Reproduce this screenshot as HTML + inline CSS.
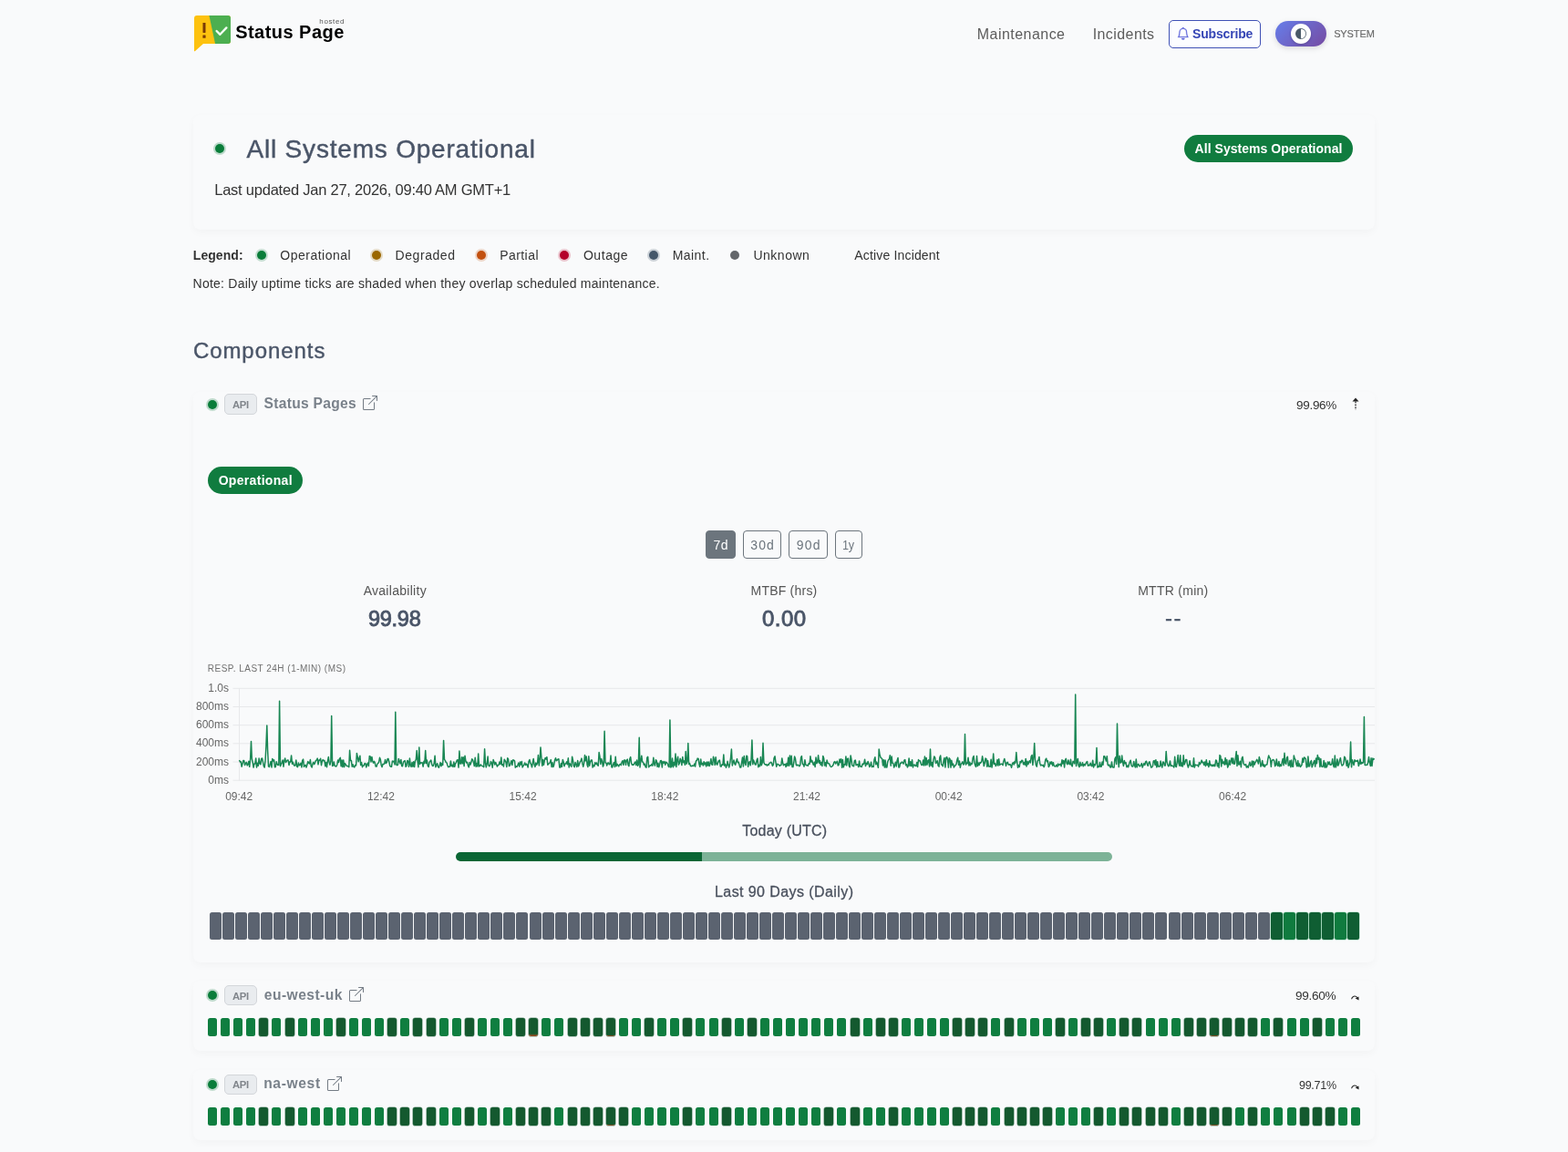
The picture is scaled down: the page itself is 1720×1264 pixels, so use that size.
<!DOCTYPE html>
<html lang="en"><head><meta charset="utf-8"><title>Status Page</title><style>
html,body{margin:0;padding:0}
body{width:1720px;height:1264px;position:relative;overflow:hidden;background:#f9fafb;font-family:"Liberation Sans", sans-serif;-webkit-font-smoothing:antialiased}
.abs,.t,.tk{position:absolute;display:block}
.t{white-space:pre;line-height:1;font-style:normal;margin:0;padding:0;text-decoration:none}
header,main,section,article,.ticks{display:block;margin:0;padding:0}
.card{position:absolute;left:212px;width:1296px;background:rgba(255,255,255,.05);border-radius:8px;box-shadow:0 3px 10px rgba(0,0,0,.032)}
.ax{font-family:"Liberation Sans", sans-serif;font-size:12px;fill:#666}
.rb{position:absolute;top:582px;height:31px;box-sizing:border-box;border:1px solid #6c757d;border-radius:4px}
</style></head><body>
<header>
<svg class="abs" style="left:210px;top:14px" width="48" height="46" viewBox="210 14 48 46">
<defs><clipPath id="lg"><path d="M216 17h34a3 3 0 0 1 3 3v25a3 3 0 0 1-3 3h-27l-9.2 8.2a.5.5 0 0 1-.8-.4V20a3 3 0 0 1 3-3z"/></clipPath></defs>
<g clip-path="url(#lg)"><rect x="210" y="14" width="48" height="46" fill="#fdc20f"/><polygon points="228.8,14 258,14 258,60 238.6,60" fill="#4caf50"/></g>
<rect x="222.5" y="25" width="3" height="11" rx=".4" fill="#7a3b06"/><rect x="222.4" y="38.6" width="3.2" height="3.2" rx=".3" fill="#7a3b06"/>
<polyline points="237.6,34 241.4,37.8 248.4,30.4" fill="none" stroke="#f2fff2" stroke-width="2.4" stroke-linecap="round" stroke-linejoin="round"/>
</svg>
<i class="abs" style="left:1282px;top:22px;width:101px;height:31px;box-sizing:border-box;border:1px solid #3f51b5;border-radius:5px;background:#fcfdff"></i>
<svg class="abs" style="left:1291.2px;top:30.2px" width="13.6" height="13.6" viewBox="0 0 16 16" fill="#5c63d8" stroke="#5c63d8" stroke-width=".35"><path d="M8 16a2 2 0 0 0 2-2H6a2 2 0 0 0 2 2zM8 1.918l-.797.161A4.002 4.002 0 0 0 4 6c0 .628-.134 2.197-.459 3.742-.16.767-.376 1.566-.663 2.258h10.244c-.287-.692-.502-1.49-.663-2.258C12.134 8.197 12 6.628 12 6a4.002 4.002 0 0 0-3.203-3.92L8 1.917zM14.22 12c.223.447.481.801.78 1H1c.299-.199.557-.553.78-1C2.68 10.2 3 6.88 3 6c0-2.42 1.72-4.44 4.005-4.901a1 1 0 1 1 1.99 0A5.002 5.002 0 0 1 13 6c0 .88.32 4.2 1.22 6z"/></svg>
<i class="abs" style="left:1399px;top:23px;width:56px;height:28px;border-radius:14px;background:linear-gradient(135deg,#667eea 0%,#764ba2 100%);box-shadow:0 2px 6px rgba(0,0,0,.13)"></i>
<i class="abs" style="left:1416px;top:26px;width:22px;height:22px;border-radius:50%;background:#fff;box-shadow:0 1px 3px rgba(0,0,0,.2)"></i>
<svg class="abs" style="left:1421px;top:31px" width="12" height="12" viewBox="0 0 16 16" fill="#4a5a68" ><path d="M8 15A7 7 0 1 0 8 1v14zm0 1A8 8 0 1 1 8 0a8 8 0 0 1 0 16z"/></svg>
<a class="t" id="brand" href="#brand" style="left:258.18px;top:24.97px;font-size:20px;font-weight:700;letter-spacing:0.463px;color:#000;">Status Page</a>
<span class="t" id="hosted" style="left:350.33px;top:20.03px;font-size:8px;font-weight:400;letter-spacing:0.626px;color:#555;">hosted</span>
<a class="t" id="nav1" href="#nav1" style="left:1071.84px;top:30.26px;font-size:16px;font-weight:400;letter-spacing:0.455px;color:#5c5c5c;">Maintenance</a>
<a class="t" id="nav2" href="#nav2" style="left:1198.64px;top:30.26px;font-size:16px;font-weight:400;letter-spacing:0.431px;color:#5c5c5c;">Incidents</a>
<a class="t" id="sub" href="#sub" style="left:1308.05px;top:29.85px;font-size:14px;font-weight:700;letter-spacing:-0.173px;color:#3545b5;">Subscribe</a>
<span class="t" id="sys" style="left:1463.15px;top:31.69px;font-size:11px;font-weight:400;letter-spacing:-0.114px;color:#6a6a6a;-webkit-text-stroke:.15px currentColor;">SYSTEM</span>
</header>
<main>
<section class="hero">
<div class="card" style="top:126px;height:126px"></div>
<i class="abs" style="left:235.90px;top:157.70px;width:10px;height:10px;border-radius:50%;background:#0a7d3a;box-shadow:0 0 0 2px rgba(10,125,58,.25);"></i>
<i class="abs" style="left:1299px;top:148px;width:185px;height:30px;border-radius:15px;background:#107c3f"></i>
<h1 class="t" id="h1" style="left:270.54px;top:150.20px;font-size:28px;font-weight:400;letter-spacing:0.798px;color:#4a5568;-webkit-text-stroke:.45px currentColor;">All Systems Operational</h1>
<p class="t" id="upd" style="left:235.23px;top:199.93px;font-size:16.5px;font-weight:400;letter-spacing:-0.233px;color:#333333;">Last updated Jan 27, 2026, 09:40 AM GMT+1</p>
<span class="t" id="badge1" style="left:1310.60px;top:155.95px;font-size:14px;font-weight:700;letter-spacing:0.034px;color:#fff;">All Systems Operational</span>
</section>
<section class="legend">
<i class="abs" style="left:281.75px;top:275.30px;width:10px;height:10px;border-radius:50%;background:#0a7d3a;box-shadow:0 0 0 2px rgba(10,125,58,.22);"></i>
<i class="abs" style="left:408.00px;top:275.30px;width:10px;height:10px;border-radius:50%;background:#9a6700;box-shadow:0 0 0 2px rgba(154,103,0,.22);"></i>
<i class="abs" style="left:522.50px;top:275.30px;width:10px;height:10px;border-radius:50%;background:#c2500f;box-shadow:0 0 0 2px rgba(194,80,15,.22);"></i>
<i class="abs" style="left:614.00px;top:275.30px;width:10px;height:10px;border-radius:50%;background:#b4002a;box-shadow:0 0 0 2px rgba(180,0,42,.22);"></i>
<i class="abs" style="left:712.00px;top:275.30px;width:10px;height:10px;border-radius:50%;background:#44576a;box-shadow:0 0 0 2px rgba(68,87,106,.25);"></i>
<i class="abs" style="left:800.75px;top:275.30px;width:10px;height:10px;border-radius:50%;background:#64676b;"></i>
<strong class="t" id="leg" style="left:211.79px;top:273.15px;font-size:14px;font-weight:700;letter-spacing:0.068px;color:#333333;">Legend:</strong>
<span class="t" id="lg0" style="left:307.37px;top:273.15px;font-size:14px;font-weight:400;letter-spacing:0.482px;color:#333333;">Operational</span>
<span class="t" id="lg1" style="left:433.53px;top:273.15px;font-size:14px;font-weight:400;letter-spacing:0.568px;color:#333333;">Degraded</span>
<span class="t" id="lg2" style="left:548.16px;top:273.15px;font-size:14px;font-weight:400;letter-spacing:0.444px;color:#333333;">Partial</span>
<span class="t" id="lg3" style="left:639.92px;top:273.15px;font-size:14px;font-weight:400;letter-spacing:0.559px;color:#333333;">Outage</span>
<span class="t" id="lg4" style="left:737.67px;top:273.15px;font-size:14px;font-weight:400;letter-spacing:0.464px;color:#333333;">Maint.</span>
<span class="t" id="lg5" style="left:826.45px;top:273.15px;font-size:14px;font-weight:400;letter-spacing:0.508px;color:#333333;">Unknown</span>
<span class="t" id="lg6" style="left:937.30px;top:273.15px;font-size:14px;font-weight:400;letter-spacing:0.165px;color:#333333;">Active Incident</span>
<p class="t" id="note" style="left:211.53px;top:303.90px;font-size:14px;font-weight:400;letter-spacing:0.250px;color:#333333;">Note: Daily uptime ticks are shaded when they overlap scheduled maintenance.</p>
</section>
<section class="components">
<h2 class="t" id="comp" style="left:211.89px;top:373.48px;font-size:24px;font-weight:400;letter-spacing:0.937px;color:#4a5568;-webkit-text-stroke:.4px currentColor;">Components</h2>
<article class="component">
<div class="card" style="top:430px;height:626px"></div>
<i class="abs" style="left:227.80px;top:438.80px;width:10px;height:10px;border-radius:50%;background:#0a7d3a;box-shadow:0 0 0 2px rgba(10,125,58,.25);"></i>
<i class="abs" style="left:246.3px;top:432.4px;width:35.5px;height:22.3px;box-sizing:border-box;background:#e9ecef;border:1px solid #d3d6da;border-radius:5px"></i>
<svg class="abs" style="left:398px;top:434px" width="16" height="16" viewBox="0 0 16 16" fill="#737b84" ><path fill-rule="evenodd" d="M8.636 3.5a.5.5 0 0 0-.5-.5H1.5A1.5 1.5 0 0 0 0 4.5v10A1.5 1.5 0 0 0 1.5 16h10a1.5 1.5 0 0 0 1.5-1.5V7.864a.5.5 0 0 0-1 0V14.5a.5.5 0 0 1-.5.5h-10a.5.5 0 0 1-.5-.5v-10a.5.5 0 0 1 .5-.5h6.636a.5.5 0 0 0 .5-.5z"/><path fill-rule="evenodd" d="M16 .5a.5.5 0 0 0-.5-.5h-5a.5.5 0 0 0 0 1h3.793L6.146 9.146a.5.5 0 1 0 .708.708L15 1.707V5.5a.5.5 0 0 0 1 0v-5z"/></svg>
<svg class="abs" style="left:1479.8px;top:434.2px" width="14" height="18" viewBox="0 0 14 18"><path d="M7 2.4 L10.5 6.6 H3.5 Z" fill="#222"/><path d="M7 6.4v9.4" stroke="#222" stroke-width="1.3" stroke-dasharray="1.8 1.2" fill="none"/></svg>
<i class="abs" style="left:228px;top:512px;width:104px;height:30px;border-radius:15px;background:#107c3f"></i>
<i class="rb" style="left:774px;width:33px;background:#6c757d"></i>
<i class="rb" style="left:815px;width:42px"></i>
<i class="rb" style="left:865px;width:43px"></i>
<i class="rb" style="left:916px;width:30px"></i>
<svg class="abs" style="left:0;top:0" width="1720" height="1264" viewBox="0 0 1720 1264"><line x1="255.5" y1="755.3" x2="1508" y2="755.3" stroke="#e7e8ea" stroke-width="1"/><line x1="255.5" y1="775.5" x2="1508" y2="775.5" stroke="#e7e8ea" stroke-width="1"/><line x1="255.5" y1="795.7" x2="1508" y2="795.7" stroke="#e7e8ea" stroke-width="1"/><line x1="255.5" y1="815.8" x2="1508" y2="815.8" stroke="#e7e8ea" stroke-width="1"/><line x1="255.5" y1="836.0" x2="1508" y2="836.0" stroke="#e7e8ea" stroke-width="1"/><line x1="255.5" y1="856.2" x2="1508" y2="856.2" stroke="#e7e8ea" stroke-width="1"/><line x1="262.5" y1="755.3" x2="262.5" y2="856.7" stroke="#e7e8ea" stroke-width="1"/><polyline fill="none" stroke="#198754" stroke-width="1.5" stroke-linejoin="round" points="262.5,834.0 263.4,836.0 264.2,835.7 265.1,841.2 266.0,838.1 266.8,834.6 267.7,834.5 268.6,839.6 269.4,837.4 270.3,836.4 271.2,839.9 272.0,838.8 272.9,835.3 273.7,841.3 274.6,833.5 275.5,813.4 276.3,832.5 277.2,836.7 278.1,842.0 278.9,837.9 279.8,837.9 280.7,831.9 281.5,842.0 282.4,837.2 283.3,840.2 284.1,832.1 285.0,837.8 285.9,838.8 286.7,832.4 287.6,832.0 288.5,836.3 289.3,840.6 290.2,842.0 291.1,833.7 291.9,818.9 292.8,796.0 293.6,823.1 294.5,840.9 295.4,841.5 296.2,838.6 297.1,835.4 298.0,842.0 298.8,832.4 299.7,835.0 300.6,833.8 301.4,841.7 302.3,841.5 303.2,835.8 304.0,838.3 304.9,839.6 305.8,839.2 306.6,769.3 307.5,840.7 308.4,838.7 309.2,836.8 310.1,834.0 311.0,841.2 311.8,834.7 312.7,832.0 313.5,836.6 314.4,835.1 315.3,834.0 316.1,834.1 317.0,839.5 317.9,835.8 318.7,835.9 319.6,828.9 320.5,838.2 321.3,836.2 322.2,839.0 323.1,840.2 323.9,839.8 324.8,834.0 325.7,841.2 326.5,841.7 327.4,836.9 328.3,839.9 329.1,839.4 330.0,837.2 330.9,841.8 331.7,834.4 332.6,833.1 333.5,841.3 334.3,840.1 335.2,839.3 336.0,842.0 336.9,839.2 337.8,835.5 338.6,837.1 339.5,837.9 340.4,833.6 341.2,840.4 342.1,842.0 343.0,838.0 343.8,836.3 344.7,838.6 345.6,836.8 346.4,834.4 347.3,834.1 348.2,832.1 349.0,838.8 349.9,834.0 350.8,834.2 351.6,832.2 352.5,839.7 353.4,835.2 354.2,833.6 355.1,834.8 355.9,834.4 356.8,840.7 357.7,836.6 358.5,841.7 359.4,835.1 360.3,830.6 361.1,836.4 362.0,839.2 362.9,835.0 363.7,785.5 364.6,840.5 365.5,839.9 366.3,835.9 367.2,840.4 368.1,840.8 368.9,840.9 369.8,839.0 370.7,833.9 371.5,836.6 372.4,832.4 373.3,831.4 374.1,840.8 375.0,834.1 375.8,841.6 376.7,833.9 377.6,841.6 378.4,837.6 379.3,838.9 380.2,840.5 381.0,840.4 381.9,840.8 382.8,841.6 383.6,823.2 384.5,834.4 385.4,834.6 386.2,841.2 387.1,838.8 388.0,841.4 388.8,841.9 389.7,839.5 390.6,839.9 391.4,826.4 392.3,831.0 393.2,835.7 394.0,832.0 394.9,829.2 395.7,839.6 396.6,836.6 397.5,841.7 398.3,839.9 399.2,839.9 400.1,837.4 400.9,837.7 401.8,841.9 402.7,838.5 403.5,837.1 404.4,840.5 405.3,829.6 406.1,829.9 407.0,836.0 407.9,830.4 408.7,835.0 409.6,837.1 410.5,835.3 411.3,837.1 412.2,841.1 413.1,841.0 413.9,838.1 414.8,837.5 415.6,836.3 416.5,831.3 417.4,833.6 418.2,839.5 419.1,841.6 420.0,838.3 420.8,838.6 421.7,837.9 422.6,833.5 423.4,837.6 424.3,836.5 425.2,832.4 426.0,832.6 426.9,836.3 427.8,840.5 428.6,841.2 429.5,841.3 430.4,835.0 431.2,835.7 432.1,835.2 433.0,838.9 433.8,781.2 434.7,838.9 435.6,839.7 436.4,839.3 437.3,832.4 438.1,834.9 439.0,837.9 439.9,833.4 440.7,840.5 441.6,840.7 442.5,836.0 443.3,835.2 444.2,834.6 445.1,841.3 445.9,840.5 446.8,834.4 447.7,835.2 448.5,841.3 449.4,832.0 450.3,839.9 451.1,841.4 452.0,836.6 452.9,841.2 453.7,835.7 454.6,841.5 455.5,834.5 456.3,833.8 457.2,823.5 458.0,834.5 458.9,841.7 459.8,820.0 460.6,838.4 461.5,836.8 462.4,836.9 463.2,836.7 464.1,841.2 465.0,835.3 465.8,837.6 466.7,823.6 467.6,837.6 468.4,834.1 469.3,840.4 470.2,841.5 471.0,836.4 471.9,835.2 472.8,834.0 473.6,838.4 474.5,840.5 475.4,840.3 476.2,837.5 477.1,829.2 477.9,841.7 478.8,839.3 479.7,837.7 480.5,841.3 481.4,842.2 482.3,839.4 483.1,836.6 484.0,840.7 484.9,837.5 485.7,839.4 486.6,812.4 487.5,833.5 488.3,834.2 489.2,836.4 490.1,837.0 490.9,839.7 491.8,841.7 492.7,841.2 493.5,841.2 494.4,834.9 495.3,840.7 496.1,839.3 497.0,841.5 497.8,836.0 498.7,841.3 499.6,837.7 500.4,836.6 501.3,834.0 502.2,833.8 503.0,842.1 503.9,824.0 504.8,837.9 505.6,838.1 506.5,830.7 507.4,837.8 508.2,830.8 509.1,840.6 510.0,829.2 510.8,834.6 511.7,836.9 512.6,836.3 513.4,840.0 514.3,841.8 515.2,836.4 516.0,839.0 516.9,836.5 517.7,832.8 518.6,833.7 519.5,836.6 520.3,840.5 521.2,831.2 522.1,841.2 522.9,837.4 523.8,840.9 524.7,827.0 525.5,840.9 526.4,840.3 527.3,838.8 528.1,840.1 529.0,840.4 529.9,840.9 530.7,841.6 531.6,821.7 532.5,837.5 533.3,841.8 534.2,838.0 535.1,830.1 535.9,839.8 536.8,840.8 537.7,839.0 538.5,835.6 539.4,837.2 540.2,842.2 541.1,833.6 542.0,835.9 542.8,839.0 543.7,836.5 544.6,838.7 545.4,841.0 546.3,839.5 547.2,839.1 548.0,835.9 548.9,838.4 549.8,830.9 550.6,839.4 551.5,838.7 552.4,841.1 553.2,833.2 554.1,834.7 555.0,836.3 555.8,841.4 556.7,831.8 557.6,833.0 558.4,840.6 559.3,839.9 560.1,837.4 561.0,834.6 561.9,839.5 562.7,833.8 563.6,834.1 564.5,834.9 565.3,842.2 566.2,840.8 567.1,841.4 567.9,839.5 568.8,837.1 569.7,841.1 570.5,836.1 571.4,839.1 572.3,835.4 573.1,841.9 574.0,840.4 574.9,839.1 575.7,836.9 576.6,839.5 577.5,838.1 578.3,839.2 579.2,841.9 580.0,835.6 580.9,833.5 581.8,837.3 582.6,838.6 583.5,841.8 584.4,836.6 585.2,832.5 586.1,839.1 587.0,841.4 587.8,837.1 588.7,839.3 589.6,837.0 590.4,828.5 591.3,840.0 592.2,832.8 593.0,819.9 593.9,831.1 594.8,840.3 595.6,833.5 596.5,839.2 597.4,833.8 598.2,831.4 599.1,833.2 599.9,830.6 600.8,839.2 601.7,837.9 602.5,837.8 603.4,836.4 604.3,833.6 605.1,841.5 606.0,836.8 606.9,841.6 607.7,839.2 608.6,834.0 609.5,831.7 610.3,834.7 611.2,834.1 612.1,833.0 612.9,832.8 613.8,842.0 614.7,842.0 615.5,837.6 616.4,841.2 617.3,833.6 618.1,836.0 619.0,840.7 619.8,838.0 620.7,838.0 621.6,835.9 622.4,838.8 623.3,831.8 624.2,841.9 625.0,837.7 625.9,839.4 626.8,841.3 627.6,830.2 628.5,834.1 629.4,840.6 630.2,841.6 631.1,836.4 632.0,839.0 632.8,841.4 633.7,834.5 634.6,840.8 635.4,838.8 636.3,836.0 637.2,834.6 638.0,832.1 638.9,837.9 639.8,841.2 640.6,837.3 641.5,828.6 642.3,834.8 643.2,830.0 644.1,839.3 644.9,841.5 645.8,829.8 646.7,840.2 647.5,836.1 648.4,834.0 649.3,833.9 650.1,842.1 651.0,839.5 651.9,840.9 652.7,836.7 653.6,838.5 654.5,837.0 655.3,839.3 656.2,840.2 657.1,825.5 657.9,829.6 658.8,838.4 659.7,832.6 660.5,835.2 661.4,841.1 662.2,839.2 663.1,802.2 664.0,837.1 664.8,836.9 665.7,840.0 666.6,837.2 667.4,836.9 668.3,838.9 669.2,838.3 670.0,829.1 670.9,841.8 671.8,841.9 672.6,838.7 673.5,836.6 674.4,841.4 675.2,830.2 676.1,840.8 677.0,838.3 677.8,839.5 678.7,840.9 679.6,839.0 680.4,838.2 681.3,839.6 682.1,836.4 683.0,834.7 683.9,839.3 684.7,834.1 685.6,834.0 686.5,839.3 687.3,834.2 688.2,833.1 689.1,839.4 689.9,840.6 690.8,832.7 691.7,830.6 692.5,837.1 693.4,839.3 694.3,839.1 695.1,839.3 696.0,837.3 696.9,836.0 697.7,839.5 698.6,833.9 699.5,840.3 700.3,839.1 701.2,809.3 702.0,841.9 702.9,835.1 703.8,829.2 704.6,835.8 705.5,836.4 706.4,839.2 707.2,838.1 708.1,841.6 709.0,842.1 709.8,831.2 710.7,830.4 711.6,841.7 712.4,840.6 713.3,839.7 714.2,840.0 715.0,838.4 715.9,840.3 716.8,831.3 717.6,837.9 718.5,840.1 719.4,833.7 720.2,834.8 721.1,841.3 721.9,837.2 722.8,841.7 723.7,838.4 724.5,834.7 725.4,834.5 726.3,842.0 727.1,835.6 728.0,837.1 728.9,835.5 729.7,839.2 730.6,836.2 731.5,836.9 732.3,837.9 733.2,840.9 734.1,841.6 734.9,790.1 735.8,842.0 736.7,840.7 737.5,832.1 738.4,841.7 739.3,836.4 740.1,839.9 741.0,827.0 741.9,841.4 742.7,833.9 743.6,830.3 744.4,839.3 745.3,837.4 746.2,832.2 747.0,834.3 747.9,839.6 748.8,830.5 749.6,836.7 750.5,834.9 751.4,839.3 752.2,824.5 753.1,838.2 754.0,835.4 754.8,815.6 755.7,838.5 756.6,837.6 757.4,840.3 758.3,840.8 759.2,840.0 760.0,840.5 760.9,840.2 761.8,838.0 762.6,841.1 763.5,834.9 764.3,834.5 765.2,832.1 766.1,832.4 766.9,838.0 767.8,841.3 768.7,832.9 769.5,838.8 770.4,837.3 771.3,840.1 772.1,835.7 773.0,838.9 773.9,836.8 774.7,840.9 775.6,836.1 776.5,840.1 777.3,836.0 778.2,840.6 779.1,837.7 779.9,832.5 780.8,838.8 781.7,839.3 782.5,830.3 783.4,833.5 784.2,839.5 785.1,830.7 786.0,838.4 786.8,839.1 787.7,836.6 788.6,834.4 789.4,834.1 790.3,841.0 791.2,841.1 792.0,838.8 792.9,839.3 793.8,828.0 794.6,840.1 795.5,838.4 796.4,842.2 797.2,840.1 798.1,835.3 799.0,839.8 799.8,841.9 800.7,837.4 801.6,831.0 802.4,822.0 803.3,840.0 804.1,837.1 805.0,833.9 805.9,838.1 806.7,839.2 807.6,835.5 808.5,832.6 809.3,836.8 810.2,836.2 811.1,839.4 811.9,841.9 812.8,841.9 813.7,836.1 814.5,830.9 815.4,841.0 816.3,829.4 817.1,836.8 818.0,839.5 818.9,829.2 819.7,829.8 820.6,841.3 821.5,837.0 822.3,835.5 823.2,839.8 824.0,834.1 824.9,812.0 825.8,838.7 826.6,833.9 827.5,836.5 828.4,839.0 829.2,838.9 830.1,834.1 831.0,832.1 831.8,841.7 832.7,839.3 833.6,840.8 834.4,830.6 835.3,839.7 836.2,836.9 837.0,815.2 837.9,836.7 838.8,838.5 839.6,839.1 840.5,838.7 841.4,840.1 842.2,838.8 843.1,839.5 844.0,837.3 844.8,837.1 845.7,836.3 846.5,837.2 847.4,840.4 848.3,839.1 849.1,831.7 850.0,829.8 850.9,836.0 851.7,841.2 852.6,838.2 853.5,838.7 854.3,838.9 855.2,840.4 856.1,839.4 856.9,839.4 857.8,831.9 858.7,837.3 859.5,839.8 860.4,838.9 861.3,838.3 862.1,841.6 863.0,837.5 863.9,840.2 864.7,831.2 865.6,840.3 866.4,829.1 867.3,838.9 868.2,829.3 869.0,841.5 869.9,841.6 870.8,836.5 871.6,829.9 872.5,832.6 873.4,839.5 874.2,839.9 875.1,839.1 876.0,839.6 876.8,840.7 877.7,839.7 878.6,831.1 879.4,829.6 880.3,838.1 881.2,838.9 882.0,841.1 882.9,833.7 883.8,839.1 884.6,839.8 885.5,839.5 886.3,840.3 887.2,837.6 888.1,838.3 888.9,829.7 889.8,836.1 890.7,834.3 891.5,837.2 892.4,839.4 893.3,836.3 894.1,841.4 895.0,831.0 895.9,837.7 896.7,836.4 897.6,828.8 898.5,837.2 899.3,834.5 900.2,839.3 901.1,836.5 901.9,840.5 902.8,829.4 903.7,832.1 904.5,839.9 905.4,836.7 906.2,840.9 907.1,834.1 908.0,837.3 908.8,837.8 909.7,837.9 910.6,840.4 911.4,841.4 912.3,841.3 913.2,840.5 914.0,839.2 914.9,836.3 915.8,835.6 916.6,838.0 917.5,836.6 918.4,835.2 919.2,839.9 920.1,839.3 921.0,833.1 921.8,836.5 922.7,832.7 923.6,842.3 924.4,833.5 925.3,841.8 926.1,838.7 927.0,839.1 927.9,829.9 928.7,839.9 929.6,832.7 930.5,832.1 931.3,840.1 932.2,841.8 933.1,828.9 933.9,833.0 934.8,839.9 935.7,840.4 936.5,840.8 937.4,834.7 938.3,834.1 939.1,839.6 940.0,838.9 940.9,838.8 941.7,841.6 942.6,834.9 943.5,841.0 944.3,840.9 945.2,841.5 946.1,838.1 946.9,838.7 947.8,837.5 948.6,833.2 949.5,840.6 950.4,837.2 951.2,838.7 952.1,835.5 953.0,838.0 953.8,841.5 954.7,839.7 955.6,836.3 956.4,841.6 957.3,840.7 958.2,841.4 959.0,833.6 959.9,830.8 960.8,838.8 961.6,836.1 962.5,838.8 963.4,842.2 964.2,822.0 965.1,828.6 966.0,831.1 966.8,831.9 967.7,832.5 968.5,839.9 969.4,833.8 970.3,841.9 971.1,834.1 972.0,842.1 972.9,841.8 973.7,836.1 974.6,833.8 975.5,832.8 976.3,828.7 977.2,840.2 978.1,829.9 978.9,837.2 979.8,837.4 980.7,842.1 981.5,839.9 982.4,836.3 983.3,840.9 984.1,834.4 985.0,831.4 985.9,841.9 986.7,841.7 987.6,837.3 988.4,837.6 989.3,836.0 990.2,836.8 991.0,838.1 991.9,834.2 992.8,833.6 993.6,839.7 994.5,838.6 995.4,841.9 996.2,840.3 997.1,831.9 998.0,840.5 998.8,835.7 999.7,840.5 1000.6,833.7 1001.4,842.0 1002.3,839.3 1003.2,839.1 1004.0,840.3 1004.9,840.6 1005.8,836.5 1006.6,841.5 1007.5,833.6 1008.3,834.7 1009.2,834.7 1010.1,837.7 1010.9,839.4 1011.8,839.5 1012.7,833.9 1013.5,839.9 1014.4,830.1 1015.3,839.8 1016.1,831.4 1017.0,839.2 1017.9,834.8 1018.7,833.8 1019.6,840.9 1020.5,822.0 1021.3,840.0 1022.2,836.4 1023.1,841.6 1023.9,833.8 1024.8,829.9 1025.7,831.4 1026.5,837.5 1027.4,836.6 1028.2,834.6 1029.1,840.1 1030.0,841.1 1030.8,831.3 1031.7,829.0 1032.6,839.0 1033.4,839.1 1034.3,840.8 1035.2,834.0 1036.0,831.5 1036.9,842.0 1037.8,831.4 1038.6,830.5 1039.5,833.2 1040.4,842.1 1041.2,831.7 1042.1,832.9 1043.0,842.1 1043.8,834.3 1044.7,839.5 1045.6,838.1 1046.4,842.0 1047.3,840.3 1048.2,839.7 1049.0,838.3 1049.9,833.6 1050.7,831.3 1051.6,839.3 1052.5,835.1 1053.3,842.2 1054.2,838.4 1055.1,837.5 1055.9,835.8 1056.8,839.0 1057.7,837.5 1058.5,805.4 1059.4,839.1 1060.3,837.1 1061.1,837.8 1062.0,831.2 1062.9,840.0 1063.7,836.3 1064.6,839.8 1065.5,837.8 1066.3,838.2 1067.2,831.3 1068.1,829.5 1068.9,837.0 1069.8,839.9 1070.6,841.4 1071.5,829.6 1072.4,840.6 1073.2,837.1 1074.1,839.6 1075.0,836.5 1075.8,837.1 1076.7,835.8 1077.6,829.8 1078.4,833.9 1079.3,840.6 1080.2,837.4 1081.0,832.1 1081.9,832.7 1082.8,841.2 1083.6,834.5 1084.5,841.0 1085.4,841.0 1086.2,841.2 1087.1,833.2 1088.0,842.0 1088.8,838.0 1089.7,827.0 1090.5,838.3 1091.4,837.5 1092.3,840.6 1093.1,839.4 1094.0,833.6 1094.9,840.1 1095.7,832.8 1096.6,839.4 1097.5,838.5 1098.3,838.2 1099.2,838.2 1100.1,839.7 1100.9,835.2 1101.8,832.4 1102.7,836.1 1103.5,840.4 1104.4,837.0 1105.3,836.2 1106.1,838.8 1107.0,839.2 1107.9,838.5 1108.7,839.6 1109.6,842.2 1110.4,837.9 1111.3,836.7 1112.2,839.1 1113.0,835.6 1113.9,837.1 1114.8,825.5 1115.6,834.8 1116.5,842.2 1117.4,839.5 1118.2,841.6 1119.1,835.4 1120.0,836.8 1120.8,834.2 1121.7,834.5 1122.6,838.7 1123.4,836.5 1124.3,839.2 1125.2,832.4 1126.0,840.9 1126.9,835.2 1127.8,838.8 1128.6,836.2 1129.5,834.6 1130.3,837.0 1131.2,829.9 1132.1,828.5 1132.9,839.5 1133.8,831.5 1134.7,815.6 1135.5,833.6 1136.4,839.5 1137.3,841.1 1138.1,834.8 1139.0,834.2 1139.9,830.4 1140.7,837.6 1141.6,839.9 1142.5,839.2 1143.3,840.0 1144.2,839.3 1145.1,841.6 1145.9,839.7 1146.8,833.6 1147.7,832.2 1148.5,835.7 1149.4,834.8 1150.3,841.5 1151.1,840.4 1152.0,835.9 1152.8,838.1 1153.7,835.9 1154.6,840.0 1155.4,836.8 1156.3,840.4 1157.2,840.9 1158.0,840.9 1158.9,839.2 1159.8,841.3 1160.6,838.1 1161.5,839.8 1162.4,838.8 1163.2,838.2 1164.1,840.7 1165.0,833.7 1165.8,837.9 1166.7,834.5 1167.6,842.0 1168.4,834.4 1169.3,832.4 1170.2,837.8 1171.0,838.6 1171.9,834.0 1172.7,838.0 1173.6,838.8 1174.5,833.3 1175.3,839.5 1176.2,840.9 1177.1,835.2 1177.9,836.1 1178.8,837.9 1179.7,761.9 1180.5,840.5 1181.4,836.2 1182.3,832.4 1183.1,839.9 1184.0,841.6 1184.9,836.3 1185.7,840.1 1186.6,839.8 1187.5,836.7 1188.3,840.8 1189.2,838.5 1190.1,839.9 1190.9,838.1 1191.8,836.3 1192.6,835.6 1193.5,840.2 1194.4,839.3 1195.2,839.9 1196.1,837.3 1197.0,839.9 1197.8,840.7 1198.7,834.2 1199.6,841.9 1200.4,838.6 1201.3,839.8 1202.2,837.3 1203.0,820.4 1203.9,842.1 1204.8,840.7 1205.6,841.5 1206.5,836.6 1207.4,841.3 1208.2,841.0 1209.1,835.9 1210.0,839.3 1210.8,829.7 1211.7,829.7 1212.5,832.2 1213.4,835.0 1214.3,829.7 1215.1,839.0 1216.0,840.0 1216.9,839.1 1217.7,841.7 1218.6,841.9 1219.5,836.1 1220.3,841.6 1221.2,842.1 1222.1,842.0 1222.9,832.8 1223.8,830.7 1224.7,838.5 1225.5,793.9 1226.4,832.4 1227.3,841.6 1228.1,829.3 1229.0,837.0 1229.9,836.6 1230.7,829.0 1231.6,836.5 1232.4,840.4 1233.3,834.4 1234.2,837.8 1235.0,836.7 1235.9,841.7 1236.8,840.0 1237.6,841.7 1238.5,838.8 1239.4,835.8 1240.2,834.2 1241.1,840.0 1242.0,841.0 1242.8,841.0 1243.7,835.5 1244.6,840.0 1245.4,841.9 1246.3,833.0 1247.2,841.8 1248.0,839.0 1248.9,838.2 1249.8,840.6 1250.6,840.8 1251.5,839.4 1252.4,837.6 1253.2,842.0 1254.1,839.5 1254.9,837.6 1255.8,839.5 1256.7,835.8 1257.5,835.2 1258.4,838.6 1259.3,840.3 1260.1,837.0 1261.0,835.8 1261.9,838.9 1262.7,842.0 1263.6,841.8 1264.5,840.4 1265.3,835.0 1266.2,834.6 1267.1,839.4 1267.9,833.7 1268.8,841.8 1269.7,835.7 1270.5,841.1 1271.4,840.9 1272.3,841.0 1273.1,835.0 1274.0,840.0 1274.8,842.1 1275.7,835.9 1276.6,836.6 1277.4,840.0 1278.3,839.9 1279.2,824.4 1280.0,835.6 1280.9,839.1 1281.8,840.8 1282.6,839.6 1283.5,834.9 1284.4,840.6 1285.2,839.9 1286.1,840.3 1287.0,840.9 1287.8,842.0 1288.7,830.3 1289.6,840.9 1290.4,841.5 1291.3,835.8 1292.2,828.4 1293.0,837.6 1293.9,840.2 1294.7,828.7 1295.6,840.6 1296.5,837.1 1297.3,841.1 1298.2,828.7 1299.1,839.1 1299.9,836.7 1300.8,833.5 1301.7,833.4 1302.5,839.1 1303.4,842.0 1304.3,839.3 1305.1,834.7 1306.0,839.3 1306.9,840.9 1307.7,840.5 1308.6,841.3 1309.5,831.8 1310.3,842.1 1311.2,839.0 1312.1,839.6 1312.9,839.4 1313.8,839.4 1314.6,841.1 1315.5,836.5 1316.4,838.6 1317.2,837.0 1318.1,834.1 1319.0,836.8 1319.8,836.4 1320.7,839.2 1321.6,835.9 1322.4,840.6 1323.3,833.7 1324.2,839.6 1325.0,837.7 1325.9,841.5 1326.8,834.8 1327.6,839.8 1328.5,839.0 1329.4,840.6 1330.2,839.1 1331.1,840.7 1332.0,838.9 1332.8,840.6 1333.7,833.9 1334.5,834.5 1335.4,840.7 1336.3,837.4 1337.1,842.2 1338.0,828.6 1338.9,829.8 1339.7,840.9 1340.6,833.3 1341.5,837.6 1342.3,836.0 1343.2,839.1 1344.1,831.5 1344.9,838.7 1345.8,833.6 1346.7,842.1 1347.5,840.0 1348.4,834.2 1349.3,839.2 1350.1,835.0 1351.0,831.7 1351.9,837.7 1352.7,832.1 1353.6,838.3 1354.5,838.0 1355.3,831.9 1356.2,824.4 1357.0,840.5 1357.9,828.8 1358.8,838.9 1359.6,838.7 1360.5,835.3 1361.4,841.7 1362.2,832.1 1363.1,830.3 1364.0,837.4 1364.8,839.0 1365.7,839.5 1366.6,838.5 1367.4,842.1 1368.3,840.5 1369.2,842.2 1370.0,839.1 1370.9,836.2 1371.8,840.3 1372.6,839.2 1373.5,835.0 1374.4,841.6 1375.2,835.2 1376.1,839.0 1376.9,836.8 1377.8,835.1 1378.7,833.4 1379.5,835.0 1380.4,838.0 1381.3,830.6 1382.1,833.8 1383.0,841.1 1383.9,839.3 1384.7,834.6 1385.6,840.6 1386.5,838.9 1387.3,841.4 1388.2,839.5 1389.1,839.0 1389.9,838.8 1390.8,832.9 1391.7,828.9 1392.5,831.5 1393.4,832.1 1394.3,841.3 1395.1,834.8 1396.0,833.7 1396.8,833.5 1397.7,834.7 1398.6,840.7 1399.4,839.5 1400.3,832.9 1401.2,839.7 1402.0,840.5 1402.9,835.4 1403.8,840.9 1404.6,838.9 1405.5,840.4 1406.4,835.9 1407.2,832.4 1408.1,839.7 1409.0,826.2 1409.8,837.1 1410.7,838.4 1411.6,831.2 1412.4,830.3 1413.3,840.1 1414.2,839.8 1415.0,834.5 1415.9,841.7 1416.7,834.0 1417.6,841.0 1418.5,841.2 1419.3,829.0 1420.2,832.5 1421.1,833.5 1421.9,838.4 1422.8,840.8 1423.7,834.6 1424.5,840.8 1425.4,837.9 1426.3,841.4 1427.1,840.6 1428.0,839.3 1428.9,831.9 1429.7,836.3 1430.6,830.9 1431.5,831.8 1432.3,832.6 1433.2,842.0 1434.1,841.2 1434.9,830.0 1435.8,840.9 1436.6,840.7 1437.5,836.1 1438.4,834.5 1439.2,841.8 1440.1,839.2 1441.0,836.6 1441.8,834.5 1442.7,841.1 1443.6,832.1 1444.4,837.7 1445.3,828.6 1446.2,833.2 1447.0,831.4 1447.9,841.4 1448.8,832.5 1449.6,840.6 1450.5,841.4 1451.4,840.8 1452.2,834.4 1453.1,842.1 1454.0,837.1 1454.8,842.1 1455.7,840.8 1456.6,835.9 1457.4,838.6 1458.3,836.0 1459.1,839.3 1460.0,839.3 1460.9,838.0 1461.7,832.7 1462.6,840.0 1463.5,841.8 1464.3,829.0 1465.2,841.9 1466.1,839.6 1466.9,832.9 1467.8,840.1 1468.7,838.0 1469.5,834.2 1470.4,831.6 1471.3,837.7 1472.1,840.1 1473.0,839.5 1473.9,837.9 1474.7,830.3 1475.6,831.5 1476.5,836.0 1477.3,840.3 1478.2,834.3 1479.0,842.2 1479.9,839.3 1480.8,835.9 1481.6,814.0 1482.5,841.8 1483.4,833.8 1484.2,836.4 1485.1,839.5 1486.0,833.7 1486.8,835.4 1487.7,834.8 1488.6,835.2 1489.4,834.2 1490.3,840.5 1491.2,837.9 1492.0,833.0 1492.9,838.3 1493.8,836.6 1494.6,837.4 1495.5,836.4 1496.4,786.4 1497.2,839.6 1498.1,839.6 1498.9,839.3 1499.8,839.3 1500.7,836.2 1501.5,830.5 1502.4,836.9 1503.3,840.4 1504.1,831.8 1505.0,840.4 1505.9,832.0 1506.7,833.4 1507.6,832.2"/><text x="251" y="758.8" text-anchor="end" class="ax">1.0s</text><text x="251" y="779.0" text-anchor="end" class="ax">800ms</text><text x="251" y="799.2" text-anchor="end" class="ax">600ms</text><text x="251" y="819.3" text-anchor="end" class="ax">400ms</text><text x="251" y="839.5" text-anchor="end" class="ax">200ms</text><text x="251" y="859.7" text-anchor="end" class="ax">0ms</text><text x="262.2" y="878" text-anchor="middle" class="ax">09:42</text><text x="417.9" y="878" text-anchor="middle" class="ax">12:42</text><text x="573.6" y="878" text-anchor="middle" class="ax">15:42</text><text x="729.3" y="878" text-anchor="middle" class="ax">18:42</text><text x="885.0" y="878" text-anchor="middle" class="ax">21:42</text><text x="1040.7" y="878" text-anchor="middle" class="ax">00:42</text><text x="1196.4" y="878" text-anchor="middle" class="ax">03:42</text><text x="1352.1" y="878" text-anchor="middle" class="ax">06:42</text></svg>
<i class="abs" style="left:500px;top:935px;width:720px;height:10px;border-radius:5px;background:linear-gradient(to right,#0a6634 0,#0a6634 270px,#7db397 270px,#7db397 100%)"></i>
<div class="ticks"><i class="tk" style="left:230.00px;top:1001px;width:13px;height:30px;background:#5b6370;border-radius:2.5px"></i><i class="tk" style="left:244.02px;top:1001px;width:13px;height:30px;background:#5b6370;border-radius:2.5px"></i><i class="tk" style="left:258.04px;top:1001px;width:13px;height:30px;background:#5b6370;border-radius:2.5px"></i><i class="tk" style="left:272.06px;top:1001px;width:13px;height:30px;background:#5b6370;border-radius:2.5px"></i><i class="tk" style="left:286.08px;top:1001px;width:13px;height:30px;background:#5b6370;border-radius:2.5px"></i><i class="tk" style="left:300.10px;top:1001px;width:13px;height:30px;background:#5b6370;border-radius:2.5px"></i><i class="tk" style="left:314.12px;top:1001px;width:13px;height:30px;background:#5b6370;border-radius:2.5px"></i><i class="tk" style="left:328.14px;top:1001px;width:13px;height:30px;background:#5b6370;border-radius:2.5px"></i><i class="tk" style="left:342.16px;top:1001px;width:13px;height:30px;background:#5b6370;border-radius:2.5px"></i><i class="tk" style="left:356.18px;top:1001px;width:13px;height:30px;background:#5b6370;border-radius:2.5px"></i><i class="tk" style="left:370.20px;top:1001px;width:13px;height:30px;background:#5b6370;border-radius:2.5px"></i><i class="tk" style="left:384.22px;top:1001px;width:13px;height:30px;background:#5b6370;border-radius:2.5px"></i><i class="tk" style="left:398.24px;top:1001px;width:13px;height:30px;background:#5b6370;border-radius:2.5px"></i><i class="tk" style="left:412.26px;top:1001px;width:13px;height:30px;background:#5b6370;border-radius:2.5px"></i><i class="tk" style="left:426.28px;top:1001px;width:13px;height:30px;background:#5b6370;border-radius:2.5px"></i><i class="tk" style="left:440.30px;top:1001px;width:13px;height:30px;background:#5b6370;border-radius:2.5px"></i><i class="tk" style="left:454.32px;top:1001px;width:13px;height:30px;background:#5b6370;border-radius:2.5px"></i><i class="tk" style="left:468.34px;top:1001px;width:13px;height:30px;background:#5b6370;border-radius:2.5px"></i><i class="tk" style="left:482.36px;top:1001px;width:13px;height:30px;background:#5b6370;border-radius:2.5px"></i><i class="tk" style="left:496.38px;top:1001px;width:13px;height:30px;background:#5b6370;border-radius:2.5px"></i><i class="tk" style="left:510.40px;top:1001px;width:13px;height:30px;background:#5b6370;border-radius:2.5px"></i><i class="tk" style="left:524.42px;top:1001px;width:13px;height:30px;background:#5b6370;border-radius:2.5px"></i><i class="tk" style="left:538.44px;top:1001px;width:13px;height:30px;background:#5b6370;border-radius:2.5px"></i><i class="tk" style="left:552.46px;top:1001px;width:13px;height:30px;background:#5b6370;border-radius:2.5px"></i><i class="tk" style="left:566.48px;top:1001px;width:13px;height:30px;background:#5b6370;border-radius:2.5px"></i><i class="tk" style="left:580.50px;top:1001px;width:13px;height:30px;background:#5b6370;border-radius:2.5px"></i><i class="tk" style="left:594.52px;top:1001px;width:13px;height:30px;background:#5b6370;border-radius:2.5px"></i><i class="tk" style="left:608.54px;top:1001px;width:13px;height:30px;background:#5b6370;border-radius:2.5px"></i><i class="tk" style="left:622.56px;top:1001px;width:13px;height:30px;background:#5b6370;border-radius:2.5px"></i><i class="tk" style="left:636.58px;top:1001px;width:13px;height:30px;background:#5b6370;border-radius:2.5px"></i><i class="tk" style="left:650.60px;top:1001px;width:13px;height:30px;background:#5b6370;border-radius:2.5px"></i><i class="tk" style="left:664.62px;top:1001px;width:13px;height:30px;background:#5b6370;border-radius:2.5px"></i><i class="tk" style="left:678.64px;top:1001px;width:13px;height:30px;background:#5b6370;border-radius:2.5px"></i><i class="tk" style="left:692.66px;top:1001px;width:13px;height:30px;background:#5b6370;border-radius:2.5px"></i><i class="tk" style="left:706.68px;top:1001px;width:13px;height:30px;background:#5b6370;border-radius:2.5px"></i><i class="tk" style="left:720.70px;top:1001px;width:13px;height:30px;background:#5b6370;border-radius:2.5px"></i><i class="tk" style="left:734.72px;top:1001px;width:13px;height:30px;background:#5b6370;border-radius:2.5px"></i><i class="tk" style="left:748.74px;top:1001px;width:13px;height:30px;background:#5b6370;border-radius:2.5px"></i><i class="tk" style="left:762.76px;top:1001px;width:13px;height:30px;background:#5b6370;border-radius:2.5px"></i><i class="tk" style="left:776.78px;top:1001px;width:13px;height:30px;background:#5b6370;border-radius:2.5px"></i><i class="tk" style="left:790.80px;top:1001px;width:13px;height:30px;background:#5b6370;border-radius:2.5px"></i><i class="tk" style="left:804.82px;top:1001px;width:13px;height:30px;background:#5b6370;border-radius:2.5px"></i><i class="tk" style="left:818.84px;top:1001px;width:13px;height:30px;background:#5b6370;border-radius:2.5px"></i><i class="tk" style="left:832.86px;top:1001px;width:13px;height:30px;background:#5b6370;border-radius:2.5px"></i><i class="tk" style="left:846.88px;top:1001px;width:13px;height:30px;background:#5b6370;border-radius:2.5px"></i><i class="tk" style="left:860.90px;top:1001px;width:13px;height:30px;background:#5b6370;border-radius:2.5px"></i><i class="tk" style="left:874.92px;top:1001px;width:13px;height:30px;background:#5b6370;border-radius:2.5px"></i><i class="tk" style="left:888.94px;top:1001px;width:13px;height:30px;background:#5b6370;border-radius:2.5px"></i><i class="tk" style="left:902.96px;top:1001px;width:13px;height:30px;background:#5b6370;border-radius:2.5px"></i><i class="tk" style="left:916.98px;top:1001px;width:13px;height:30px;background:#5b6370;border-radius:2.5px"></i><i class="tk" style="left:931.00px;top:1001px;width:13px;height:30px;background:#5b6370;border-radius:2.5px"></i><i class="tk" style="left:945.02px;top:1001px;width:13px;height:30px;background:#5b6370;border-radius:2.5px"></i><i class="tk" style="left:959.04px;top:1001px;width:13px;height:30px;background:#5b6370;border-radius:2.5px"></i><i class="tk" style="left:973.06px;top:1001px;width:13px;height:30px;background:#5b6370;border-radius:2.5px"></i><i class="tk" style="left:987.08px;top:1001px;width:13px;height:30px;background:#5b6370;border-radius:2.5px"></i><i class="tk" style="left:1001.10px;top:1001px;width:13px;height:30px;background:#5b6370;border-radius:2.5px"></i><i class="tk" style="left:1015.12px;top:1001px;width:13px;height:30px;background:#5b6370;border-radius:2.5px"></i><i class="tk" style="left:1029.14px;top:1001px;width:13px;height:30px;background:#5b6370;border-radius:2.5px"></i><i class="tk" style="left:1043.16px;top:1001px;width:13px;height:30px;background:#5b6370;border-radius:2.5px"></i><i class="tk" style="left:1057.18px;top:1001px;width:13px;height:30px;background:#5b6370;border-radius:2.5px"></i><i class="tk" style="left:1071.20px;top:1001px;width:13px;height:30px;background:#5b6370;border-radius:2.5px"></i><i class="tk" style="left:1085.22px;top:1001px;width:13px;height:30px;background:#5b6370;border-radius:2.5px"></i><i class="tk" style="left:1099.24px;top:1001px;width:13px;height:30px;background:#5b6370;border-radius:2.5px"></i><i class="tk" style="left:1113.26px;top:1001px;width:13px;height:30px;background:#5b6370;border-radius:2.5px"></i><i class="tk" style="left:1127.28px;top:1001px;width:13px;height:30px;background:#5b6370;border-radius:2.5px"></i><i class="tk" style="left:1141.30px;top:1001px;width:13px;height:30px;background:#5b6370;border-radius:2.5px"></i><i class="tk" style="left:1155.32px;top:1001px;width:13px;height:30px;background:#5b6370;border-radius:2.5px"></i><i class="tk" style="left:1169.34px;top:1001px;width:13px;height:30px;background:#5b6370;border-radius:2.5px"></i><i class="tk" style="left:1183.36px;top:1001px;width:13px;height:30px;background:#5b6370;border-radius:2.5px"></i><i class="tk" style="left:1197.38px;top:1001px;width:13px;height:30px;background:#5b6370;border-radius:2.5px"></i><i class="tk" style="left:1211.40px;top:1001px;width:13px;height:30px;background:#5b6370;border-radius:2.5px"></i><i class="tk" style="left:1225.42px;top:1001px;width:13px;height:30px;background:#5b6370;border-radius:2.5px"></i><i class="tk" style="left:1239.44px;top:1001px;width:13px;height:30px;background:#5b6370;border-radius:2.5px"></i><i class="tk" style="left:1253.46px;top:1001px;width:13px;height:30px;background:#5b6370;border-radius:2.5px"></i><i class="tk" style="left:1267.48px;top:1001px;width:13px;height:30px;background:#5b6370;border-radius:2.5px"></i><i class="tk" style="left:1281.50px;top:1001px;width:13px;height:30px;background:#5b6370;border-radius:2.5px"></i><i class="tk" style="left:1295.52px;top:1001px;width:13px;height:30px;background:#5b6370;border-radius:2.5px"></i><i class="tk" style="left:1309.54px;top:1001px;width:13px;height:30px;background:#5b6370;border-radius:2.5px"></i><i class="tk" style="left:1323.56px;top:1001px;width:13px;height:30px;background:#5b6370;border-radius:2.5px"></i><i class="tk" style="left:1337.58px;top:1001px;width:13px;height:30px;background:#5b6370;border-radius:2.5px"></i><i class="tk" style="left:1351.60px;top:1001px;width:13px;height:30px;background:#5b6370;border-radius:2.5px"></i><i class="tk" style="left:1365.62px;top:1001px;width:13px;height:30px;background:#5b6370;border-radius:2.5px"></i><i class="tk" style="left:1379.64px;top:1001px;width:13px;height:30px;background:#5b6370;border-radius:2.5px"></i><i class="tk" style="left:1393.66px;top:1001px;width:13px;height:30px;background:#0f5e33;border-radius:2.5px;box-shadow:0 0 0 .6px rgba(60,170,110,.45)"></i><i class="tk" style="left:1407.68px;top:1001px;width:13px;height:30px;background:#107b3f;border-radius:2.5px;box-shadow:0 0 0 .6px rgba(60,170,110,.45)"></i><i class="tk" style="left:1421.70px;top:1001px;width:13px;height:30px;background:#0f5e33;border-radius:2.5px;box-shadow:0 0 0 .6px rgba(60,170,110,.45)"></i><i class="tk" style="left:1435.72px;top:1001px;width:13px;height:30px;background:#0f5e33;border-radius:2.5px;box-shadow:0 0 0 .6px rgba(60,170,110,.45)"></i><i class="tk" style="left:1449.74px;top:1001px;width:13px;height:30px;background:#0f5e33;border-radius:2.5px;box-shadow:0 0 0 .6px rgba(60,170,110,.45)"></i><i class="tk" style="left:1463.76px;top:1001px;width:13px;height:30px;background:#107b3f;border-radius:2.5px;box-shadow:0 0 0 .6px rgba(60,170,110,.45)"></i><i class="tk" style="left:1477.78px;top:1001px;width:13px;height:30px;background:#0f5e33;border-radius:2.5px;box-shadow:0 0 0 .6px rgba(60,170,110,.45)"></i></div>
<span class="t" id="api1" style="left:255.21px;top:439.27px;font-size:11.5px;font-weight:700;letter-spacing:-0.300px;color:#80858b;transform:scaleX(0.9812);transform-origin:0 0;">API</span>
<h3 class="t" id="name1" style="left:289.50px;top:434.79px;font-size:15.6px;font-weight:700;letter-spacing:0.303px;color:#79818a;">Status Pages</h3>
<span class="t" id="pct1" style="left:1421.56px;top:438.49px;font-size:13.6px;font-weight:400;letter-spacing:-0.300px;color:#333333;transform:scaleX(0.9947);transform-origin:0 0;">99.96%</span>
<span class="t" id="opb" style="left:239.64px;top:519.85px;font-size:14px;font-weight:700;letter-spacing:0.318px;color:#fff;">Operational</span>
<span class="t" id="r7" style="left:782.62px;top:591.05px;font-size:14px;font-weight:400;letter-spacing:0.345px;color:#fff;">7d</span>
<span class="t" id="r30" style="left:823.37px;top:591.05px;font-size:14px;font-weight:400;letter-spacing:1.090px;color:#6c757d;">30d</span>
<span class="t" id="r90" style="left:873.73px;top:591.05px;font-size:14px;font-weight:400;letter-spacing:1.198px;color:#6c757d;">90d</span>
<span class="t" id="r1y" style="left:923.85px;top:591.05px;font-size:14px;font-weight:400;letter-spacing:-0.300px;color:#6c757d;transform:scaleX(0.8979);transform-origin:0 0;">1y</span>
<span class="t" id="av" style="left:398.63px;top:640.85px;font-size:14px;font-weight:400;letter-spacing:0.287px;color:#555;">Availability</span>
<span class="t" id="avv" style="left:404.36px;top:666.68px;font-size:24px;font-weight:400;letter-spacing:-0.300px;color:#4a5568;transform:scaleX(0.9806);transform-origin:0 0;-webkit-text-stroke:.9px currentColor;">99.98</span>
<span class="t" id="mtbf" style="left:823.52px;top:641.05px;font-size:14px;font-weight:400;letter-spacing:0.220px;color:#555;">MTBF (hrs)</span>
<span class="t" id="mtbfv" style="left:835.89px;top:666.68px;font-size:24px;font-weight:400;letter-spacing:0.535px;color:#4a5568;-webkit-text-stroke:.9px currentColor;">0.00</span>
<span class="t" id="mttr" style="left:1248.18px;top:641.05px;font-size:14px;font-weight:400;letter-spacing:0.271px;color:#555;">MTTR (min)</span>
<span class="t" id="mttrv" style="left:1278.06px;top:665.68px;font-size:24px;font-weight:400;letter-spacing:1.515px;color:#4a5568;-webkit-text-stroke:.35px currentColor;">--</span>
<span class="t" id="resp" style="left:227.83px;top:728.63px;font-size:10px;font-weight:400;letter-spacing:0.485px;color:#707070;">RESP. LAST 24H (1-MIN) (MS)</span>
<h4 class="t" id="today" style="left:814.16px;top:904.46px;font-size:16px;font-weight:400;letter-spacing:0.225px;color:#4a515e;-webkit-text-stroke:.3px currentColor;">Today (UTC)</h4>
<h4 class="t" id="l90" style="left:784.00px;top:971.46px;font-size:16px;font-weight:400;letter-spacing:0.419px;color:#4a515e;-webkit-text-stroke:.3px currentColor;">Last 90 Days (Daily)</h4>
</article>
<article class="component">
<div class="card" style="top:1076px;height:77px"></div>
<i class="abs" style="left:227.80px;top:1086.80px;width:10px;height:10px;border-radius:50%;background:#0a7d3a;box-shadow:0 0 0 2px rgba(10,125,58,.25);"></i>
<i class="abs" style="left:246.2px;top:1081px;width:35.5px;height:22.3px;box-sizing:border-box;background:#e9ecef;border:1px solid #d3d6da;border-radius:5px"></i>
<svg class="abs" style="left:383px;top:1083px" width="16" height="16" viewBox="0 0 16 16" fill="#737b84" ><path fill-rule="evenodd" d="M8.636 3.5a.5.5 0 0 0-.5-.5H1.5A1.5 1.5 0 0 0 0 4.5v10A1.5 1.5 0 0 0 1.5 16h10a1.5 1.5 0 0 0 1.5-1.5V7.864a.5.5 0 0 0-1 0V14.5a.5.5 0 0 1-.5.5h-10a.5.5 0 0 1-.5-.5v-10a.5.5 0 0 1 .5-.5h6.636a.5.5 0 0 0 .5-.5z"/><path fill-rule="evenodd" d="M16 .5a.5.5 0 0 0-.5-.5h-5a.5.5 0 0 0 0 1h3.793L6.146 9.146a.5.5 0 1 0 .708.708L15 1.707V5.5a.5.5 0 0 0 1 0v-5z"/></svg>
<svg class="abs" style="left:1480px;top:1088px" width="14" height="12" viewBox="0 0 14 12"><path d="M2.6 8.2C3 5.2 6.6 3.6 8.8 6.6" stroke="#222" stroke-width="1.1" fill="none"/><path d="M6.6 7.4 L10.6 9.6 L10.4 5.6" fill="#222"/></svg>
<div class="ticks"><i class="tk" style="left:228.00px;top:1117px;width:10px;height:20px;background:#0f7e40;border-radius:2.5px;"></i><i class="tk" style="left:242.09px;top:1117px;width:10px;height:20px;background:#0f7e40;border-radius:2.5px;"></i><i class="tk" style="left:256.18px;top:1117px;width:10px;height:20px;background:#0f7e40;border-radius:2.5px;"></i><i class="tk" style="left:270.27px;top:1117px;width:10px;height:20px;background:#0f7e40;border-radius:2.5px;"></i><i class="tk" style="left:284.36px;top:1117px;width:10px;height:20px;background:#14592f;border-radius:2.5px;box-shadow:0 0 0 .6px rgba(20,89,47,.55);"></i><i class="tk" style="left:298.45px;top:1117px;width:10px;height:20px;background:#0f7e40;border-radius:2.5px;"></i><i class="tk" style="left:312.54px;top:1117px;width:10px;height:20px;background:#14592f;border-radius:2.5px;box-shadow:0 0 0 .6px rgba(20,89,47,.55);"></i><i class="tk" style="left:326.63px;top:1117px;width:10px;height:20px;background:#0f7e40;border-radius:2.5px;"></i><i class="tk" style="left:340.72px;top:1117px;width:10px;height:20px;background:#0f7e40;border-radius:2.5px;"></i><i class="tk" style="left:354.81px;top:1117px;width:10px;height:20px;background:#0f7e40;border-radius:2.5px;"></i><i class="tk" style="left:368.90px;top:1117px;width:10px;height:20px;background:#14592f;border-radius:2.5px;box-shadow:0 0 0 .6px rgba(20,89,47,.55);"></i><i class="tk" style="left:382.99px;top:1117px;width:10px;height:20px;background:#0f7e40;border-radius:2.5px;"></i><i class="tk" style="left:397.08px;top:1117px;width:10px;height:20px;background:#0f7e40;border-radius:2.5px;"></i><i class="tk" style="left:411.17px;top:1117px;width:10px;height:20px;background:#0f7e40;border-radius:2.5px;"></i><i class="tk" style="left:425.26px;top:1117px;width:10px;height:20px;background:#14592f;border-radius:2.5px;box-shadow:0 0 0 .6px rgba(20,89,47,.55);"></i><i class="tk" style="left:439.35px;top:1117px;width:10px;height:20px;background:#0f7e40;border-radius:2.5px;"></i><i class="tk" style="left:453.44px;top:1117px;width:10px;height:20px;background:#14592f;border-radius:2.5px;box-shadow:0 0 0 .6px rgba(20,89,47,.55);"></i><i class="tk" style="left:467.53px;top:1117px;width:10px;height:20px;background:#14592f;border-radius:2.5px;box-shadow:0 0 0 .6px rgba(20,89,47,.55);"></i><i class="tk" style="left:481.62px;top:1117px;width:10px;height:20px;background:#0f7e40;border-radius:2.5px;"></i><i class="tk" style="left:495.71px;top:1117px;width:10px;height:20px;background:#0f7e40;border-radius:2.5px;"></i><i class="tk" style="left:509.80px;top:1117px;width:10px;height:20px;background:#14592f;border-radius:2.5px;box-shadow:0 0 0 .6px rgba(20,89,47,.55);"></i><i class="tk" style="left:523.89px;top:1117px;width:10px;height:20px;background:#0f7e40;border-radius:2.5px;"></i><i class="tk" style="left:537.98px;top:1117px;width:10px;height:20px;background:#0f7e40;border-radius:2.5px;"></i><i class="tk" style="left:552.07px;top:1117px;width:10px;height:20px;background:#0f7e40;border-radius:2.5px;"></i><i class="tk" style="left:566.16px;top:1117px;width:10px;height:20px;background:#14592f;border-radius:2.5px;box-shadow:0 0 0 .6px rgba(20,89,47,.55);"></i><i class="tk" style="left:580.25px;top:1117px;width:10px;height:20px;background:linear-gradient(to bottom,#14592f 0,#14592f 86%,#b5451b 100%);border-radius:2.5px;box-shadow:0 0 0 .6px rgba(20,89,47,.55);"></i><i class="tk" style="left:594.34px;top:1117px;width:10px;height:20px;background:#0f7e40;border-radius:2.5px;"></i><i class="tk" style="left:608.43px;top:1117px;width:10px;height:20px;background:#0f7e40;border-radius:2.5px;"></i><i class="tk" style="left:622.52px;top:1117px;width:10px;height:20px;background:#14592f;border-radius:2.5px;box-shadow:0 0 0 .6px rgba(20,89,47,.55);"></i><i class="tk" style="left:636.61px;top:1117px;width:10px;height:20px;background:#14592f;border-radius:2.5px;box-shadow:0 0 0 .6px rgba(20,89,47,.55);"></i><i class="tk" style="left:650.70px;top:1117px;width:10px;height:20px;background:#14592f;border-radius:2.5px;box-shadow:0 0 0 .6px rgba(20,89,47,.55);"></i><i class="tk" style="left:664.79px;top:1117px;width:10px;height:20px;background:linear-gradient(to bottom,#14592f 0,#14592f 93%,#b5451b 100%);border-radius:2.5px;box-shadow:0 0 0 .6px rgba(20,89,47,.55);"></i><i class="tk" style="left:678.88px;top:1117px;width:10px;height:20px;background:#0f7e40;border-radius:2.5px;"></i><i class="tk" style="left:692.97px;top:1117px;width:10px;height:20px;background:#0f7e40;border-radius:2.5px;"></i><i class="tk" style="left:707.06px;top:1117px;width:10px;height:20px;background:#14592f;border-radius:2.5px;box-shadow:0 0 0 .6px rgba(20,89,47,.55);"></i><i class="tk" style="left:721.15px;top:1117px;width:10px;height:20px;background:#0f7e40;border-radius:2.5px;"></i><i class="tk" style="left:735.24px;top:1117px;width:10px;height:20px;background:#0f7e40;border-radius:2.5px;"></i><i class="tk" style="left:749.33px;top:1117px;width:10px;height:20px;background:#14592f;border-radius:2.5px;box-shadow:0 0 0 .6px rgba(20,89,47,.55);"></i><i class="tk" style="left:763.42px;top:1117px;width:10px;height:20px;background:#0f7e40;border-radius:2.5px;"></i><i class="tk" style="left:777.51px;top:1117px;width:10px;height:20px;background:#0f7e40;border-radius:2.5px;"></i><i class="tk" style="left:791.60px;top:1117px;width:10px;height:20px;background:#14592f;border-radius:2.5px;box-shadow:0 0 0 .6px rgba(20,89,47,.55);"></i><i class="tk" style="left:805.69px;top:1117px;width:10px;height:20px;background:#0f7e40;border-radius:2.5px;"></i><i class="tk" style="left:819.78px;top:1117px;width:10px;height:20px;background:#14592f;border-radius:2.5px;box-shadow:0 0 0 .6px rgba(20,89,47,.55);"></i><i class="tk" style="left:833.87px;top:1117px;width:10px;height:20px;background:#0f7e40;border-radius:2.5px;"></i><i class="tk" style="left:847.96px;top:1117px;width:10px;height:20px;background:#0f7e40;border-radius:2.5px;"></i><i class="tk" style="left:862.05px;top:1117px;width:10px;height:20px;background:#0f7e40;border-radius:2.5px;"></i><i class="tk" style="left:876.14px;top:1117px;width:10px;height:20px;background:#0f7e40;border-radius:2.5px;"></i><i class="tk" style="left:890.23px;top:1117px;width:10px;height:20px;background:#0f7e40;border-radius:2.5px;"></i><i class="tk" style="left:904.32px;top:1117px;width:10px;height:20px;background:#0f7e40;border-radius:2.5px;"></i><i class="tk" style="left:918.41px;top:1117px;width:10px;height:20px;background:#0f7e40;border-radius:2.5px;"></i><i class="tk" style="left:932.50px;top:1117px;width:10px;height:20px;background:#14592f;border-radius:2.5px;box-shadow:0 0 0 .6px rgba(20,89,47,.55);"></i><i class="tk" style="left:946.59px;top:1117px;width:10px;height:20px;background:#0f7e40;border-radius:2.5px;"></i><i class="tk" style="left:960.68px;top:1117px;width:10px;height:20px;background:#14592f;border-radius:2.5px;box-shadow:0 0 0 .6px rgba(20,89,47,.55);"></i><i class="tk" style="left:974.77px;top:1117px;width:10px;height:20px;background:#14592f;border-radius:2.5px;box-shadow:0 0 0 .6px rgba(20,89,47,.55);"></i><i class="tk" style="left:988.86px;top:1117px;width:10px;height:20px;background:#0f7e40;border-radius:2.5px;"></i><i class="tk" style="left:1002.95px;top:1117px;width:10px;height:20px;background:#0f7e40;border-radius:2.5px;"></i><i class="tk" style="left:1017.04px;top:1117px;width:10px;height:20px;background:#0f7e40;border-radius:2.5px;"></i><i class="tk" style="left:1031.13px;top:1117px;width:10px;height:20px;background:#0f7e40;border-radius:2.5px;"></i><i class="tk" style="left:1045.22px;top:1117px;width:10px;height:20px;background:#14592f;border-radius:2.5px;box-shadow:0 0 0 .6px rgba(20,89,47,.55);"></i><i class="tk" style="left:1059.31px;top:1117px;width:10px;height:20px;background:#14592f;border-radius:2.5px;box-shadow:0 0 0 .6px rgba(20,89,47,.55);"></i><i class="tk" style="left:1073.40px;top:1117px;width:10px;height:20px;background:#14592f;border-radius:2.5px;box-shadow:0 0 0 .6px rgba(20,89,47,.55);"></i><i class="tk" style="left:1087.49px;top:1117px;width:10px;height:20px;background:#0f7e40;border-radius:2.5px;"></i><i class="tk" style="left:1101.58px;top:1117px;width:10px;height:20px;background:#14592f;border-radius:2.5px;box-shadow:0 0 0 .6px rgba(20,89,47,.55);"></i><i class="tk" style="left:1115.67px;top:1117px;width:10px;height:20px;background:#0f7e40;border-radius:2.5px;"></i><i class="tk" style="left:1129.76px;top:1117px;width:10px;height:20px;background:#0f7e40;border-radius:2.5px;"></i><i class="tk" style="left:1143.85px;top:1117px;width:10px;height:20px;background:#0f7e40;border-radius:2.5px;"></i><i class="tk" style="left:1157.94px;top:1117px;width:10px;height:20px;background:#14592f;border-radius:2.5px;box-shadow:0 0 0 .6px rgba(20,89,47,.55);"></i><i class="tk" style="left:1172.03px;top:1117px;width:10px;height:20px;background:#0f7e40;border-radius:2.5px;"></i><i class="tk" style="left:1186.12px;top:1117px;width:10px;height:20px;background:#14592f;border-radius:2.5px;box-shadow:0 0 0 .6px rgba(20,89,47,.55);"></i><i class="tk" style="left:1200.21px;top:1117px;width:10px;height:20px;background:#14592f;border-radius:2.5px;box-shadow:0 0 0 .6px rgba(20,89,47,.55);"></i><i class="tk" style="left:1214.30px;top:1117px;width:10px;height:20px;background:#0f7e40;border-radius:2.5px;"></i><i class="tk" style="left:1228.39px;top:1117px;width:10px;height:20px;background:#14592f;border-radius:2.5px;box-shadow:0 0 0 .6px rgba(20,89,47,.55);"></i><i class="tk" style="left:1242.48px;top:1117px;width:10px;height:20px;background:#14592f;border-radius:2.5px;box-shadow:0 0 0 .6px rgba(20,89,47,.55);"></i><i class="tk" style="left:1256.57px;top:1117px;width:10px;height:20px;background:#0f7e40;border-radius:2.5px;"></i><i class="tk" style="left:1270.66px;top:1117px;width:10px;height:20px;background:#0f7e40;border-radius:2.5px;"></i><i class="tk" style="left:1284.75px;top:1117px;width:10px;height:20px;background:#0f7e40;border-radius:2.5px;"></i><i class="tk" style="left:1298.84px;top:1117px;width:10px;height:20px;background:#14592f;border-radius:2.5px;box-shadow:0 0 0 .6px rgba(20,89,47,.55);"></i><i class="tk" style="left:1312.93px;top:1117px;width:10px;height:20px;background:#14592f;border-radius:2.5px;box-shadow:0 0 0 .6px rgba(20,89,47,.55);"></i><i class="tk" style="left:1327.02px;top:1117px;width:10px;height:20px;background:linear-gradient(to bottom,#14592f 0,#14592f 93%,#b5451b 100%);border-radius:2.5px;box-shadow:0 0 0 .6px rgba(20,89,47,.55);"></i><i class="tk" style="left:1341.11px;top:1117px;width:10px;height:20px;background:#14592f;border-radius:2.5px;box-shadow:0 0 0 .6px rgba(20,89,47,.55);"></i><i class="tk" style="left:1355.20px;top:1117px;width:10px;height:20px;background:#14592f;border-radius:2.5px;box-shadow:0 0 0 .6px rgba(20,89,47,.55);"></i><i class="tk" style="left:1369.29px;top:1117px;width:10px;height:20px;background:#14592f;border-radius:2.5px;box-shadow:0 0 0 .6px rgba(20,89,47,.55);"></i><i class="tk" style="left:1383.38px;top:1117px;width:10px;height:20px;background:#0f7e40;border-radius:2.5px;"></i><i class="tk" style="left:1397.47px;top:1117px;width:10px;height:20px;background:#14592f;border-radius:2.5px;box-shadow:0 0 0 .6px rgba(20,89,47,.55);"></i><i class="tk" style="left:1411.56px;top:1117px;width:10px;height:20px;background:#0f7e40;border-radius:2.5px;"></i><i class="tk" style="left:1425.65px;top:1117px;width:10px;height:20px;background:#0f7e40;border-radius:2.5px;"></i><i class="tk" style="left:1439.74px;top:1117px;width:10px;height:20px;background:#14592f;border-radius:2.5px;box-shadow:0 0 0 .6px rgba(20,89,47,.55);"></i><i class="tk" style="left:1453.83px;top:1117px;width:10px;height:20px;background:#0f7e40;border-radius:2.5px;"></i><i class="tk" style="left:1467.92px;top:1117px;width:10px;height:20px;background:#0f7e40;border-radius:2.5px;"></i><i class="tk" style="left:1482.01px;top:1117px;width:10px;height:20px;background:#0f7e40;border-radius:2.5px;"></i></div>
<span class="t" id="api2" style="left:255.21px;top:1087.87px;font-size:11.5px;font-weight:700;letter-spacing:-0.300px;color:#80858b;transform:scaleX(0.9812);transform-origin:0 0;">API</span>
<h3 class="t" id="name2" style="left:289.77px;top:1083.79px;font-size:15.6px;font-weight:700;letter-spacing:0.467px;color:#79818a;">eu-west-uk</h3>
<span class="t" id="pct2" style="left:1420.89px;top:1086.49px;font-size:13.6px;font-weight:400;letter-spacing:-0.288px;color:#333333;">99.60%</span>
</article>
<article class="component">
<div class="card" style="top:1174px;height:77px"></div>
<i class="abs" style="left:227.80px;top:1184.70px;width:10px;height:10px;border-radius:50%;background:#0a7d3a;box-shadow:0 0 0 2px rgba(10,125,58,.25);"></i>
<i class="abs" style="left:246.2px;top:1179.2px;width:35.5px;height:22.3px;box-sizing:border-box;background:#e9ecef;border:1px solid #d3d6da;border-radius:5px"></i>
<svg class="abs" style="left:359px;top:1181px" width="16" height="16" viewBox="0 0 16 16" fill="#737b84" ><path fill-rule="evenodd" d="M8.636 3.5a.5.5 0 0 0-.5-.5H1.5A1.5 1.5 0 0 0 0 4.5v10A1.5 1.5 0 0 0 1.5 16h10a1.5 1.5 0 0 0 1.5-1.5V7.864a.5.5 0 0 0-1 0V14.5a.5.5 0 0 1-.5.5h-10a.5.5 0 0 1-.5-.5v-10a.5.5 0 0 1 .5-.5h6.636a.5.5 0 0 0 .5-.5z"/><path fill-rule="evenodd" d="M16 .5a.5.5 0 0 0-.5-.5h-5a.5.5 0 0 0 0 1h3.793L6.146 9.146a.5.5 0 1 0 .708.708L15 1.707V5.5a.5.5 0 0 0 1 0v-5z"/></svg>
<svg class="abs" style="left:1480px;top:1186px" width="14" height="12" viewBox="0 0 14 12"><path d="M2.6 8.2C3 5.2 6.6 3.6 8.8 6.6" stroke="#222" stroke-width="1.1" fill="none"/><path d="M6.6 7.4 L10.6 9.6 L10.4 5.6" fill="#222"/></svg>
<div class="ticks"><i class="tk" style="left:228.00px;top:1215px;width:10px;height:20px;background:#0f7e40;border-radius:2.5px;"></i><i class="tk" style="left:242.09px;top:1215px;width:10px;height:20px;background:#0f7e40;border-radius:2.5px;"></i><i class="tk" style="left:256.18px;top:1215px;width:10px;height:20px;background:#0f7e40;border-radius:2.5px;"></i><i class="tk" style="left:270.27px;top:1215px;width:10px;height:20px;background:#0f7e40;border-radius:2.5px;"></i><i class="tk" style="left:284.36px;top:1215px;width:10px;height:20px;background:#14592f;border-radius:2.5px;box-shadow:0 0 0 .6px rgba(20,89,47,.55);"></i><i class="tk" style="left:298.45px;top:1215px;width:10px;height:20px;background:#0f7e40;border-radius:2.5px;"></i><i class="tk" style="left:312.54px;top:1215px;width:10px;height:20px;background:#14592f;border-radius:2.5px;box-shadow:0 0 0 .6px rgba(20,89,47,.55);"></i><i class="tk" style="left:326.63px;top:1215px;width:10px;height:20px;background:#0f7e40;border-radius:2.5px;"></i><i class="tk" style="left:340.72px;top:1215px;width:10px;height:20px;background:#0f7e40;border-radius:2.5px;"></i><i class="tk" style="left:354.81px;top:1215px;width:10px;height:20px;background:#0f7e40;border-radius:2.5px;"></i><i class="tk" style="left:368.90px;top:1215px;width:10px;height:20px;background:#0f7e40;border-radius:2.5px;"></i><i class="tk" style="left:382.99px;top:1215px;width:10px;height:20px;background:#0f7e40;border-radius:2.5px;"></i><i class="tk" style="left:397.08px;top:1215px;width:10px;height:20px;background:#0f7e40;border-radius:2.5px;"></i><i class="tk" style="left:411.17px;top:1215px;width:10px;height:20px;background:#0f7e40;border-radius:2.5px;"></i><i class="tk" style="left:425.26px;top:1215px;width:10px;height:20px;background:#14592f;border-radius:2.5px;box-shadow:0 0 0 .6px rgba(20,89,47,.55);"></i><i class="tk" style="left:439.35px;top:1215px;width:10px;height:20px;background:#14592f;border-radius:2.5px;box-shadow:0 0 0 .6px rgba(20,89,47,.55);"></i><i class="tk" style="left:453.44px;top:1215px;width:10px;height:20px;background:#14592f;border-radius:2.5px;box-shadow:0 0 0 .6px rgba(20,89,47,.55);"></i><i class="tk" style="left:467.53px;top:1215px;width:10px;height:20px;background:#14592f;border-radius:2.5px;box-shadow:0 0 0 .6px rgba(20,89,47,.55);"></i><i class="tk" style="left:481.62px;top:1215px;width:10px;height:20px;background:#0f7e40;border-radius:2.5px;"></i><i class="tk" style="left:495.71px;top:1215px;width:10px;height:20px;background:#0f7e40;border-radius:2.5px;"></i><i class="tk" style="left:509.80px;top:1215px;width:10px;height:20px;background:#14592f;border-radius:2.5px;box-shadow:0 0 0 .6px rgba(20,89,47,.55);"></i><i class="tk" style="left:523.89px;top:1215px;width:10px;height:20px;background:#0f7e40;border-radius:2.5px;"></i><i class="tk" style="left:537.98px;top:1215px;width:10px;height:20px;background:#14592f;border-radius:2.5px;box-shadow:0 0 0 .6px rgba(20,89,47,.55);"></i><i class="tk" style="left:552.07px;top:1215px;width:10px;height:20px;background:#0f7e40;border-radius:2.5px;"></i><i class="tk" style="left:566.16px;top:1215px;width:10px;height:20px;background:#14592f;border-radius:2.5px;box-shadow:0 0 0 .6px rgba(20,89,47,.55);"></i><i class="tk" style="left:580.25px;top:1215px;width:10px;height:20px;background:#14592f;border-radius:2.5px;box-shadow:0 0 0 .6px rgba(20,89,47,.55);"></i><i class="tk" style="left:594.34px;top:1215px;width:10px;height:20px;background:#14592f;border-radius:2.5px;box-shadow:0 0 0 .6px rgba(20,89,47,.55);"></i><i class="tk" style="left:608.43px;top:1215px;width:10px;height:20px;background:#0f7e40;border-radius:2.5px;"></i><i class="tk" style="left:622.52px;top:1215px;width:10px;height:20px;background:#14592f;border-radius:2.5px;box-shadow:0 0 0 .6px rgba(20,89,47,.55);"></i><i class="tk" style="left:636.61px;top:1215px;width:10px;height:20px;background:#14592f;border-radius:2.5px;box-shadow:0 0 0 .6px rgba(20,89,47,.55);"></i><i class="tk" style="left:650.70px;top:1215px;width:10px;height:20px;background:#14592f;border-radius:2.5px;box-shadow:0 0 0 .6px rgba(20,89,47,.55);"></i><i class="tk" style="left:664.79px;top:1215px;width:10px;height:20px;background:linear-gradient(to bottom,#14592f 0,#14592f 93%,#b5451b 100%);border-radius:2.5px;box-shadow:0 0 0 .6px rgba(20,89,47,.55);"></i><i class="tk" style="left:678.88px;top:1215px;width:10px;height:20px;background:#14592f;border-radius:2.5px;box-shadow:0 0 0 .6px rgba(20,89,47,.55);"></i><i class="tk" style="left:692.97px;top:1215px;width:10px;height:20px;background:#0f7e40;border-radius:2.5px;"></i><i class="tk" style="left:707.06px;top:1215px;width:10px;height:20px;background:#0f7e40;border-radius:2.5px;"></i><i class="tk" style="left:721.15px;top:1215px;width:10px;height:20px;background:#0f7e40;border-radius:2.5px;"></i><i class="tk" style="left:735.24px;top:1215px;width:10px;height:20px;background:#0f7e40;border-radius:2.5px;"></i><i class="tk" style="left:749.33px;top:1215px;width:10px;height:20px;background:#14592f;border-radius:2.5px;box-shadow:0 0 0 .6px rgba(20,89,47,.55);"></i><i class="tk" style="left:763.42px;top:1215px;width:10px;height:20px;background:#0f7e40;border-radius:2.5px;"></i><i class="tk" style="left:777.51px;top:1215px;width:10px;height:20px;background:#0f7e40;border-radius:2.5px;"></i><i class="tk" style="left:791.60px;top:1215px;width:10px;height:20px;background:#14592f;border-radius:2.5px;box-shadow:0 0 0 .6px rgba(20,89,47,.55);"></i><i class="tk" style="left:805.69px;top:1215px;width:10px;height:20px;background:#0f7e40;border-radius:2.5px;"></i><i class="tk" style="left:819.78px;top:1215px;width:10px;height:20px;background:#0f7e40;border-radius:2.5px;"></i><i class="tk" style="left:833.87px;top:1215px;width:10px;height:20px;background:#0f7e40;border-radius:2.5px;"></i><i class="tk" style="left:847.96px;top:1215px;width:10px;height:20px;background:#0f7e40;border-radius:2.5px;"></i><i class="tk" style="left:862.05px;top:1215px;width:10px;height:20px;background:#0f7e40;border-radius:2.5px;"></i><i class="tk" style="left:876.14px;top:1215px;width:10px;height:20px;background:#0f7e40;border-radius:2.5px;"></i><i class="tk" style="left:890.23px;top:1215px;width:10px;height:20px;background:#0f7e40;border-radius:2.5px;"></i><i class="tk" style="left:904.32px;top:1215px;width:10px;height:20px;background:#14592f;border-radius:2.5px;box-shadow:0 0 0 .6px rgba(20,89,47,.55);"></i><i class="tk" style="left:918.41px;top:1215px;width:10px;height:20px;background:#0f7e40;border-radius:2.5px;"></i><i class="tk" style="left:932.50px;top:1215px;width:10px;height:20px;background:#14592f;border-radius:2.5px;box-shadow:0 0 0 .6px rgba(20,89,47,.55);"></i><i class="tk" style="left:946.59px;top:1215px;width:10px;height:20px;background:#0f7e40;border-radius:2.5px;"></i><i class="tk" style="left:960.68px;top:1215px;width:10px;height:20px;background:#0f7e40;border-radius:2.5px;"></i><i class="tk" style="left:974.77px;top:1215px;width:10px;height:20px;background:#14592f;border-radius:2.5px;box-shadow:0 0 0 .6px rgba(20,89,47,.55);"></i><i class="tk" style="left:988.86px;top:1215px;width:10px;height:20px;background:#0f7e40;border-radius:2.5px;"></i><i class="tk" style="left:1002.95px;top:1215px;width:10px;height:20px;background:#0f7e40;border-radius:2.5px;"></i><i class="tk" style="left:1017.04px;top:1215px;width:10px;height:20px;background:#0f7e40;border-radius:2.5px;"></i><i class="tk" style="left:1031.13px;top:1215px;width:10px;height:20px;background:#0f7e40;border-radius:2.5px;"></i><i class="tk" style="left:1045.22px;top:1215px;width:10px;height:20px;background:#14592f;border-radius:2.5px;box-shadow:0 0 0 .6px rgba(20,89,47,.55);"></i><i class="tk" style="left:1059.31px;top:1215px;width:10px;height:20px;background:#14592f;border-radius:2.5px;box-shadow:0 0 0 .6px rgba(20,89,47,.55);"></i><i class="tk" style="left:1073.40px;top:1215px;width:10px;height:20px;background:#14592f;border-radius:2.5px;box-shadow:0 0 0 .6px rgba(20,89,47,.55);"></i><i class="tk" style="left:1087.49px;top:1215px;width:10px;height:20px;background:#0f7e40;border-radius:2.5px;"></i><i class="tk" style="left:1101.58px;top:1215px;width:10px;height:20px;background:#14592f;border-radius:2.5px;box-shadow:0 0 0 .6px rgba(20,89,47,.55);"></i><i class="tk" style="left:1115.67px;top:1215px;width:10px;height:20px;background:#14592f;border-radius:2.5px;box-shadow:0 0 0 .6px rgba(20,89,47,.55);"></i><i class="tk" style="left:1129.76px;top:1215px;width:10px;height:20px;background:#14592f;border-radius:2.5px;box-shadow:0 0 0 .6px rgba(20,89,47,.55);"></i><i class="tk" style="left:1143.85px;top:1215px;width:10px;height:20px;background:#14592f;border-radius:2.5px;box-shadow:0 0 0 .6px rgba(20,89,47,.55);"></i><i class="tk" style="left:1157.94px;top:1215px;width:10px;height:20px;background:#0f7e40;border-radius:2.5px;"></i><i class="tk" style="left:1172.03px;top:1215px;width:10px;height:20px;background:#0f7e40;border-radius:2.5px;"></i><i class="tk" style="left:1186.12px;top:1215px;width:10px;height:20px;background:#0f7e40;border-radius:2.5px;"></i><i class="tk" style="left:1200.21px;top:1215px;width:10px;height:20px;background:#14592f;border-radius:2.5px;box-shadow:0 0 0 .6px rgba(20,89,47,.55);"></i><i class="tk" style="left:1214.30px;top:1215px;width:10px;height:20px;background:#0f7e40;border-radius:2.5px;"></i><i class="tk" style="left:1228.39px;top:1215px;width:10px;height:20px;background:#14592f;border-radius:2.5px;box-shadow:0 0 0 .6px rgba(20,89,47,.55);"></i><i class="tk" style="left:1242.48px;top:1215px;width:10px;height:20px;background:#14592f;border-radius:2.5px;box-shadow:0 0 0 .6px rgba(20,89,47,.55);"></i><i class="tk" style="left:1256.57px;top:1215px;width:10px;height:20px;background:#14592f;border-radius:2.5px;box-shadow:0 0 0 .6px rgba(20,89,47,.55);"></i><i class="tk" style="left:1270.66px;top:1215px;width:10px;height:20px;background:#14592f;border-radius:2.5px;box-shadow:0 0 0 .6px rgba(20,89,47,.55);"></i><i class="tk" style="left:1284.75px;top:1215px;width:10px;height:20px;background:#0f7e40;border-radius:2.5px;"></i><i class="tk" style="left:1298.84px;top:1215px;width:10px;height:20px;background:#14592f;border-radius:2.5px;box-shadow:0 0 0 .6px rgba(20,89,47,.55);"></i><i class="tk" style="left:1312.93px;top:1215px;width:10px;height:20px;background:#14592f;border-radius:2.5px;box-shadow:0 0 0 .6px rgba(20,89,47,.55);"></i><i class="tk" style="left:1327.02px;top:1215px;width:10px;height:20px;background:linear-gradient(to bottom,#14592f 0,#14592f 93%,#b5451b 100%);border-radius:2.5px;box-shadow:0 0 0 .6px rgba(20,89,47,.55);"></i><i class="tk" style="left:1341.11px;top:1215px;width:10px;height:20px;background:#14592f;border-radius:2.5px;box-shadow:0 0 0 .6px rgba(20,89,47,.55);"></i><i class="tk" style="left:1355.20px;top:1215px;width:10px;height:20px;background:#0f7e40;border-radius:2.5px;"></i><i class="tk" style="left:1369.29px;top:1215px;width:10px;height:20px;background:#14592f;border-radius:2.5px;box-shadow:0 0 0 .6px rgba(20,89,47,.55);"></i><i class="tk" style="left:1383.38px;top:1215px;width:10px;height:20px;background:#0f7e40;border-radius:2.5px;"></i><i class="tk" style="left:1397.47px;top:1215px;width:10px;height:20px;background:#0f7e40;border-radius:2.5px;"></i><i class="tk" style="left:1411.56px;top:1215px;width:10px;height:20px;background:#0f7e40;border-radius:2.5px;"></i><i class="tk" style="left:1425.65px;top:1215px;width:10px;height:20px;background:#14592f;border-radius:2.5px;box-shadow:0 0 0 .6px rgba(20,89,47,.55);"></i><i class="tk" style="left:1439.74px;top:1215px;width:10px;height:20px;background:#14592f;border-radius:2.5px;box-shadow:0 0 0 .6px rgba(20,89,47,.55);"></i><i class="tk" style="left:1453.83px;top:1215px;width:10px;height:20px;background:#14592f;border-radius:2.5px;box-shadow:0 0 0 .6px rgba(20,89,47,.55);"></i><i class="tk" style="left:1467.92px;top:1215px;width:10px;height:20px;background:#0f7e40;border-radius:2.5px;"></i><i class="tk" style="left:1482.01px;top:1215px;width:10px;height:20px;background:#0f7e40;border-radius:2.5px;"></i></div>
<span class="t" id="api3" style="left:255.21px;top:1185.27px;font-size:11.5px;font-weight:700;letter-spacing:-0.300px;color:#80858b;transform:scaleX(0.9812);transform-origin:0 0;">API</span>
<h3 class="t" id="name3" style="left:289.13px;top:1180.79px;font-size:15.6px;font-weight:700;letter-spacing:0.652px;color:#79818a;">na-west</h3>
<span class="t" id="pct3" style="left:1424.69px;top:1184.49px;font-size:13.6px;font-weight:400;letter-spacing:-0.300px;color:#333333;transform:scaleX(0.9198);transform-origin:0 0;">99.71%</span>
</article>
</section>
</main>
</body></html>
